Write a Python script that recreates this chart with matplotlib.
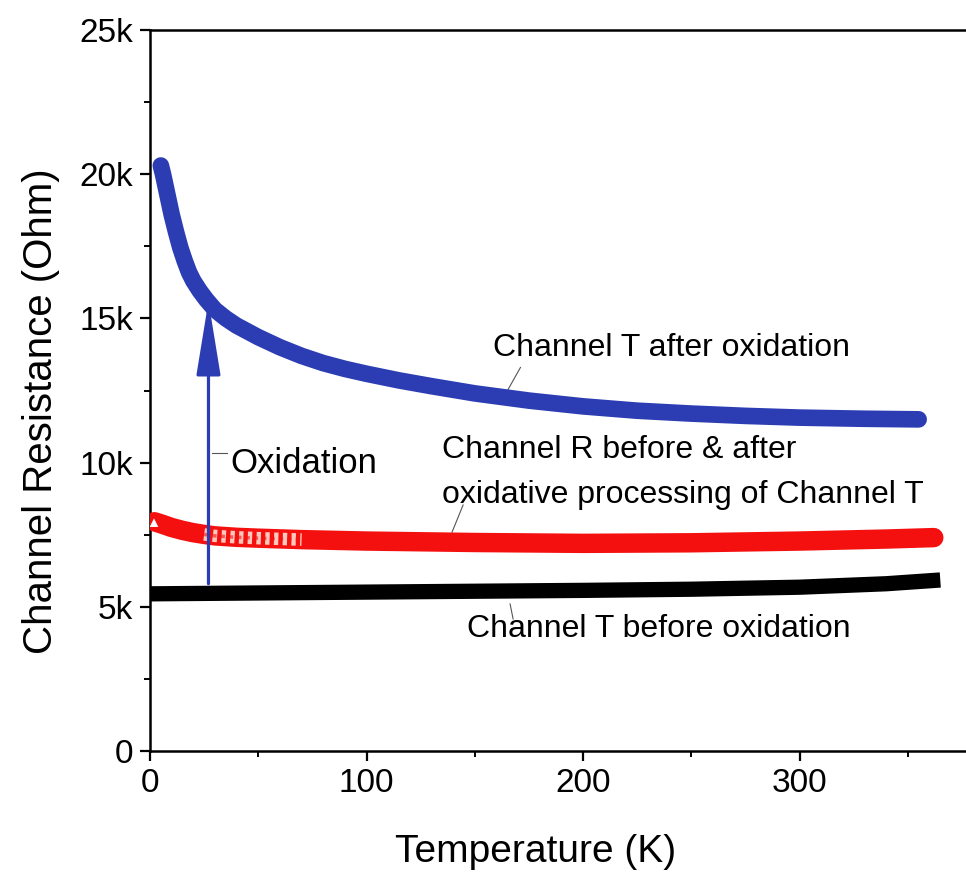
import matplotlib
matplotlib.use('Agg')
import matplotlib.pyplot as plt
from matplotlib.ticker import MultipleLocator, FuncFormatter

plt.rcParams['font.family'] = ['Liberation Sans', 'DejaVu Sans']

BLUE = '#2c3db4'
RED = '#f51010'
BLACK = '#000000'

# Channel T after oxidation
temp_after = [5, 6, 7, 8, 10, 12, 14, 16, 18, 20, 23, 26, 30, 35, 40, 50, 60, 70, 80,
              90, 100, 115, 130, 150, 175, 200, 225, 250, 275, 300, 330, 355]
res_after = [20300, 20000, 19650, 19300, 18600, 18000, 17450, 17000, 16600, 16300,
             15950, 15650, 15300, 15000, 14750, 14350, 14000, 13700, 13450, 13250,
             13080, 12850, 12650, 12400, 12150, 11950, 11800, 11700, 11620, 11560,
             11520, 11500]

# Channel R before & after oxidative processing of Channel T
temp_ref = [2, 5, 10, 15, 20, 25, 30, 40, 50, 70, 100, 150, 200, 250, 300, 340, 362]
res_ref = [7950, 7880, 7750, 7650, 7570, 7510, 7460, 7410, 7380, 7330, 7280, 7230,
           7200, 7220, 7280, 7350, 7400]

# Channel T before oxidation
temp_before = [0, 50, 100, 150, 200, 250, 300, 340, 365]
res_before = [5450, 5480, 5510, 5540, 5570, 5610, 5680, 5800, 5930]

# oxidation arrow
arrow_t = 27
arrow_from = 5800
arrow_to = 15600

fig = plt.figure(figsize=(9.66, 8.82), dpi=100)
ax = fig.add_axes([0.1553, 0.1485, 0.8517, 0.8175])

ax.plot(temp_before, res_before, color=BLACK, lw=11, solid_capstyle='butt', zorder=3)
ax.plot(temp_ref, res_ref, color=RED, lw=14, solid_capstyle='round', zorder=3)
# lighter hatched-looking stretch of the red curve
seg = [(t, r) for t, r in zip(temp_ref, res_ref) if 25 <= t <= 70]
ax.plot([s[0] for s in seg], [s[1] for s in seg], color='#ffc8bc', lw=9,
        linestyle=(0, (0.35, 0.35)), zorder=4)
ax.plot([s[0] for s in seg], [s[1] for s in seg], color=RED, lw=2.5,
        linestyle=(0, (1.2, 1.2)), alpha=0.6, zorder=4)
ax.plot(temp_ref[:1], res_ref[:1], marker='^', ms=9, mfc='white', mec=RED, mew=1.5,
        ls='none', zorder=4)
ax.plot(temp_after, res_after, color=BLUE, lw=12, solid_capstyle='round',
        solid_joinstyle='round', zorder=3)

ax.annotate('', xy=(arrow_t, arrow_to), xytext=(arrow_t, arrow_from),
            arrowprops=dict(arrowstyle='-|>,head_length=4.6,head_width=0.75',
                            mutation_scale=10, color=BLUE, lw=2.3,
                            shrinkA=0, shrinkB=0), zorder=5)

ax.set_xlim(0, 380)
ax.set_ylim(0, 25000)
ax.xaxis.set_major_locator(MultipleLocator(100))
ax.xaxis.set_minor_locator(MultipleLocator(50))
ax.yaxis.set_major_locator(MultipleLocator(5000))
ax.yaxis.set_minor_locator(MultipleLocator(2500))
ax.yaxis.set_major_formatter(FuncFormatter(lambda v, p: '0' if v == 0 else f'{int(v / 1000)}k'))
ax.tick_params(which='major', direction='out', length=7, width=1.6, labelsize=24, pad=5)
ax.tick_params(which='minor', direction='out', length=4, width=1.4)
for s in ax.spines.values():
    s.set_linewidth(1.8)

ax.set_xlabel('Temperature (K)', fontsize=28)
ax.xaxis.set_label_coords(0.468, -0.115)
fig.text(41 / 966, 1 - 411 / 882, 'Channel Resistance (Ohm)', rotation=90,
         ha='center', va='center', fontsize=29)

# labels with short leader lines
lead = dict(color='#555555', lw=0.8)
ax.text(158.4, 13700, 'Channel T after oxidation', fontsize=23, va='baseline')
ax.plot([171.1, 165.1], [13300, 12500], **lead)

ax.text(36.9, 9640, 'Oxidation', fontsize=25, va='baseline')
ax.plot([28.6, 35.5], [10340, 10340], **lead)

ax.text(134.9, 10160, 'Channel R before & after', fontsize=23, va='baseline')
ax.text(134.9, 8600, 'oxidative processing of Channel T', fontsize=23, va='baseline')
ax.plot([144.6, 139.5], [8530, 7590], **lead)

ax.text(146.4, 3950, 'Channel T before oxidation', fontsize=23, va='baseline')
ax.plot([166.3, 167.7], [5100, 4580], **lead)

fig.savefig('out.png', dpi=100)
